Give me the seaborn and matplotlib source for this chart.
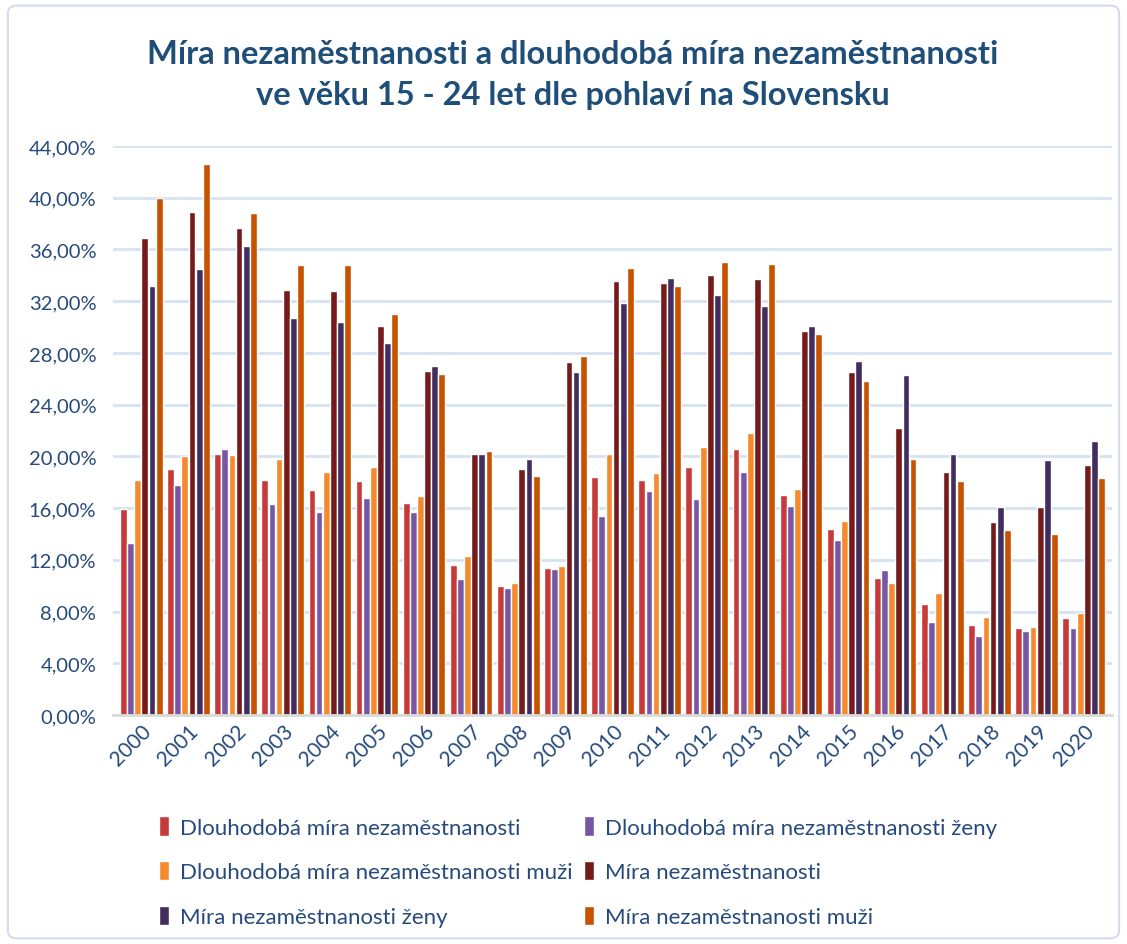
import numpy as np
import pandas as pd
import matplotlib.pyplot as plt
import seaborn as sns
from matplotlib.patches import FancyBboxPatch
from matplotlib.ticker import FuncFormatter

# -----------------------------
# data (in %)
# -----------------------------
years = [str(y) for y in range(2000, 2021)]

dlouh_celkem = [15.9, 19.0, 20.2, 18.2, 17.4, 18.1, 16.4, 11.6, 10.0, 11.4, 18.4,
                18.2, 19.2, 20.6, 17.0, 14.4, 10.6, 8.6, 7.0, 6.7, 7.5]
dlouh_zeny = [13.3, 17.8, 20.6, 16.3, 15.7, 16.8, 15.7, 10.5, 9.8, 11.3, 15.4,
              17.3, 16.7, 18.8, 16.2, 13.5, 11.2, 7.2, 6.1, 6.5, 6.7]
dlouh_muzi = [18.2, 20.0, 20.1, 19.8, 18.8, 19.2, 16.9, 12.3, 10.2, 11.5, 20.2,
              18.7, 20.7, 21.8, 17.5, 15.0, 10.2, 9.4, 7.6, 6.8, 7.9]
mira_celkem = [36.9, 38.9, 37.7, 32.9, 32.8, 30.1, 26.6, 20.2, 19.0, 27.3, 33.6,
               33.4, 34.0, 33.7, 29.7, 26.5, 22.2, 18.8, 14.9, 16.1, 19.3]
mira_zeny = [33.2, 34.5, 36.3, 30.7, 30.4, 28.8, 27.0, 20.2, 19.8, 26.5, 31.9,
             33.8, 32.5, 31.6, 30.1, 27.4, 26.3, 20.2, 16.1, 19.7, 21.2]
mira_muzi = [40.0, 42.6, 38.8, 34.8, 34.8, 31.0, 26.4, 20.4, 18.5, 27.8, 34.6,
             33.2, 35.0, 34.9, 29.5, 25.8, 19.8, 18.1, 14.3, 14.0, 18.3]

series_names = [
    "Dlouhodobá míra nezaměstnanosti",
    "Dlouhodobá míra nezaměstnanosti ženy",
    "Dlouhodobá míra nezaměstnanosti muži",
    "Míra nezaměstnanosti",
    "Míra nezaměstnanosti ženy",
    "Míra nezaměstnanosti muži",
]
series_values = [dlouh_celkem, dlouh_zeny, dlouh_muzi, mira_celkem, mira_zeny, mira_muzi]
colors = ["#C63A3A", "#7757A3", "#F58A2C", "#751B1B", "#432D5E", "#C75200"]

rows = []
for name, vals in zip(series_names, series_values):
    for yr, v in zip(years, vals):
        rows.append({"rok": yr, "serie": name, "hodnota": v})
df = pd.DataFrame(rows)

# -----------------------------
# style
# -----------------------------
sns.set_theme(style="white")
plt.rcParams["font.family"] = ["Lato", "DejaVu Sans"]
text_color = "#264A7C"

fig = plt.figure(figsize=(11.27, 9.45), dpi=100)
ax = fig.add_axes([113 / 1127, 0.2423, 999 / 1127, 0.6021])

sns.barplot(data=df, x="rok", y="hodnota", hue="serie", hue_order=series_names,
            palette=colors, saturation=1, width=0.91, gap=0.05, ax=ax,
            errorbar=None, legend=True)

ax.set_ylim(0, 44)
ax.set_yticks(np.arange(0, 45, 4))
ax.yaxis.set_major_formatter(FuncFormatter(lambda v, p: f"{v:.2f}".replace(".", ",") + "%"))
ax.grid(axis="y", color="#D5E2F1", linewidth=2)
ax.set_axisbelow(True)
ax.set_xlabel("")
ax.set_ylabel("")
for s in ["top", "right", "left"]:
    ax.spines[s].set_visible(False)
ax.spines["bottom"].set_color("#D9D9D9")
ax.spines["bottom"].set_linewidth(2)
ax.set_xlim(-0.6, len(years) - 0.4)

ax.tick_params(axis="y", labelsize=14.5, labelcolor=text_color, length=0, pad=12)
ax.tick_params(axis="x", labelsize=15, labelcolor=text_color, length=0, pad=4)
for lab in ax.get_xticklabels():
    lab.set_rotation(45)
    lab.set_ha("right")
    lab.set_rotation_mode("anchor")

# legend: row-wise order in 2 columns
handles, labels = ax.get_legend_handles_labels()
order = [0, 2, 4, 1, 3, 5]
ax.legend([handles[i] for i in order], [labels[i] for i in order],
          ncol=2, loc="upper left", bbox_to_anchor=(0.026, -0.143),
          frameon=False, fontsize=16, labelcolor=text_color,
          handlelength=0.45, handleheight=0.95, handletextpad=0.5,
          columnspacing=0.5, labelspacing=1.05)

fig.text(0.508, 0.921, "Míra nezaměstnanosti a dlouhodobá míra nezaměstnanosti\nve věku 15 - 24 let dle pohlaví na Slovensku",
         ha="center", va="center", fontsize=23.5, fontweight="bold",
         color="#1F4E79", linespacing=1.5)

# outer frame
frame = FancyBboxPatch((0.007, 0.006), 0.986, 0.987, boxstyle="round,pad=0,rounding_size=0.008",
                       transform=fig.transFigure, fill=False, edgecolor="#D3DDEA", linewidth=1.5)
fig.patches.append(frame)

fig.savefig("out.png", dpi=100)
